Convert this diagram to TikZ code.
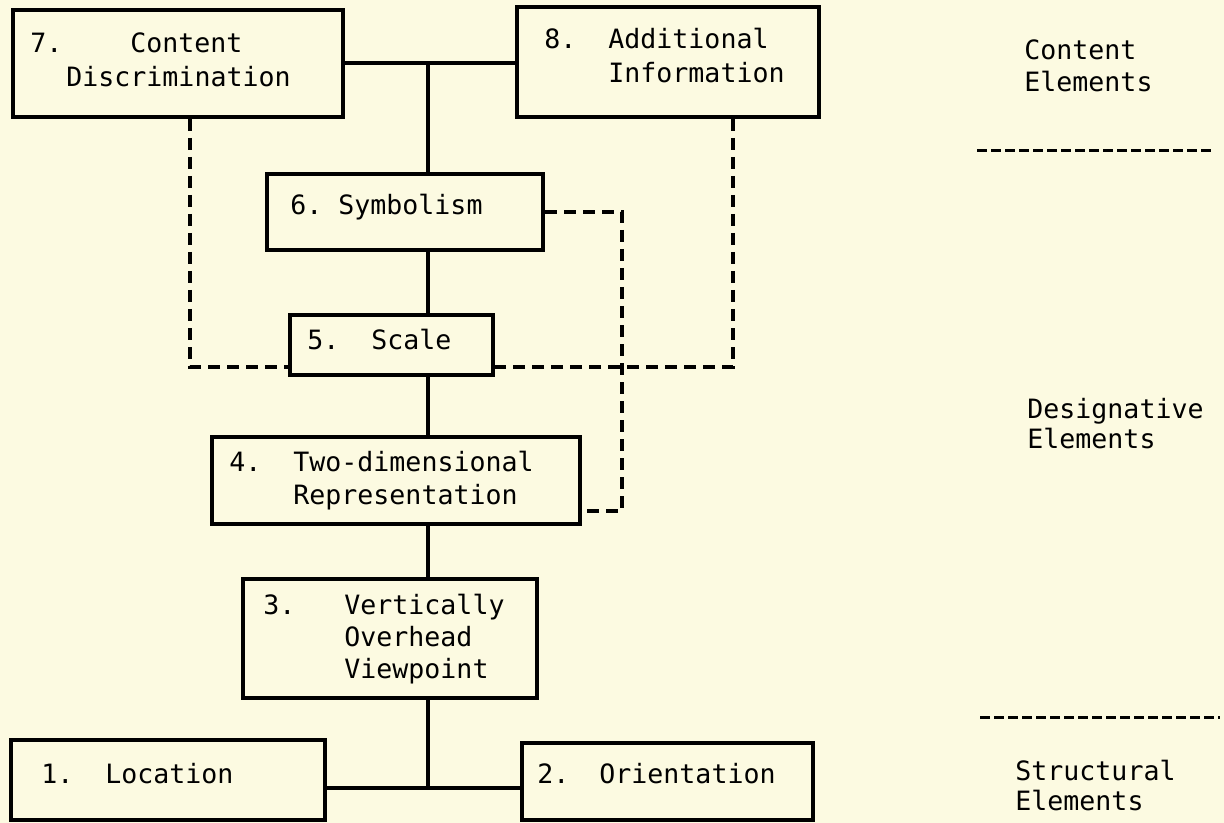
\documentclass[tikz,border=0pt]{standalone}
\usepackage{fontspec}
\setmonofont{DejaVu Sans Mono}
\usetikzlibrary{fit,positioning}
\definecolor{paper}{RGB}{252,250,225}
\tikzset{
	elbox/.style={draw=black, line width=2pt, inner sep=0pt},
	tie/.style={draw=black, line width=2pt},
	dashtie/.style={draw=black, line width=1.8pt, dash pattern=on 6pt off 3.5pt},
	sepline/.style={draw=black, line width=1.5pt, dash pattern=on 5pt off 2pt},
	txt/.style={anchor=base west, inner sep=0pt, font=\ttfamily\fontsize{13.3}{16}\selectfont},
}
\begin{document}
\begin{tikzpicture}[x=0.5pt, y=-0.5pt]
		%% paper and frame of the page
		\fill[paper] (0,0) rectangle (1224,823);
		\useasboundingbox (0,0) rectangle (1224,823);
		%% the eight boxes
		\node[elbox, fit={(13,10) (343,117)}] (n7) {};
		\node[elbox, fit={(517,7) (819,117)}] (n8) {};
		\node[elbox, fit={(267,174) (543,250)}] (n6) {};
		\node[elbox, fit={(290,315) (493,375)}] (n5) {};
		\node[elbox, fit={(212,437) (580,524)}] (n4) {};
		\node[elbox, fit={(243,579) (537,698)}] (n3) {};
		\node[elbox, fit={(11,740) (325,820)}] (n1) {};
		\node[elbox, fit={(522,743) (813,820)}] (n2) {};
		%% texts in the boxes
		\node[txt] at (30,53) {7.};
		\node[txt] at (130,53) {Content};
		\node[txt] at (66,87) {Discrimination};
		\node[txt] at (544,49) {8.};
		\node[txt] at (608,49) {Additional};
		\node[txt] at (608,83) {Information};
		\node[txt] at (290,215) {6.};
		\node[txt] at (338,215) {Symbolism};
		\node[txt] at (307,350) {5.};
		\node[txt] at (371,350) {Scale};
		\node[txt] at (229,471) {4.};
		\node[txt] at (293,471) {Two-dimensional};
		\node[txt] at (293,504) {Representation};
		\node[txt] at (263,614) {3.};
		\node[txt] at (344,614) {Vertically};
		\node[txt] at (344,646) {Overhead};
		\node[txt] at (344,678) {Viewpoint};
		\node[txt] at (41,783) {1.};
		\node[txt] at (105,783) {Location};
		\node[txt] at (537,783) {2.};
		\node[txt] at (599,783) {Orientation};
		%% solid trunk
		\coordinate (j78) at (428,63);
		\coordinate (j12) at (428,788);
		\draw[tie] (n7.east) -- (n7.east -| n8.west);
		\draw[tie] (j78) -- (j78 |- n6.north);
		\draw[tie] (n6.south -| j78) -- (n5.north -| j78);
		\draw[tie] (n5.south -| j78) -- (n4.north -| j78);
		\draw[tie] (n4.south -| j78) -- (n3.north -| j78);
		\draw[tie] (n3.south -| j12) -- (j12);
		\draw[tie] (n1.east |- j12) -- (n2.west |- j12);
		%% dashed links
		\coordinate (d7) at (190,367);
		\coordinate (d8) at (733,367);
		\coordinate (d6) at (622,212);
		\coordinate (d4) at (622,511);
		\draw[dashtie] (n7.south -| d7) -- (d7) -- (n5.west |- d7);
		\draw[dashtie] (n8.south -| d8) -- (d8) -- (n5.east |- d8);
		\draw[dashtie] (n6.east |- d6) -- (d6) -- (d4) -- (n4.east |- d4);
		%% levels on the right
		\node[txt] at (1024,60) {Content};
		\node[txt] at (1024,92) {Elements};
		\draw[sepline] (977,151) -- (1213,151);
		\node[txt] at (1027,418) {Designative};
		\node[txt] at (1027,448) {Elements};
		\draw[sepline] (980,717) -- (1220,717);
		\node[txt] at (1015,780) {Structural};
		\node[txt] at (1015,810) {Elements};
	\end{tikzpicture}
\end{document}
